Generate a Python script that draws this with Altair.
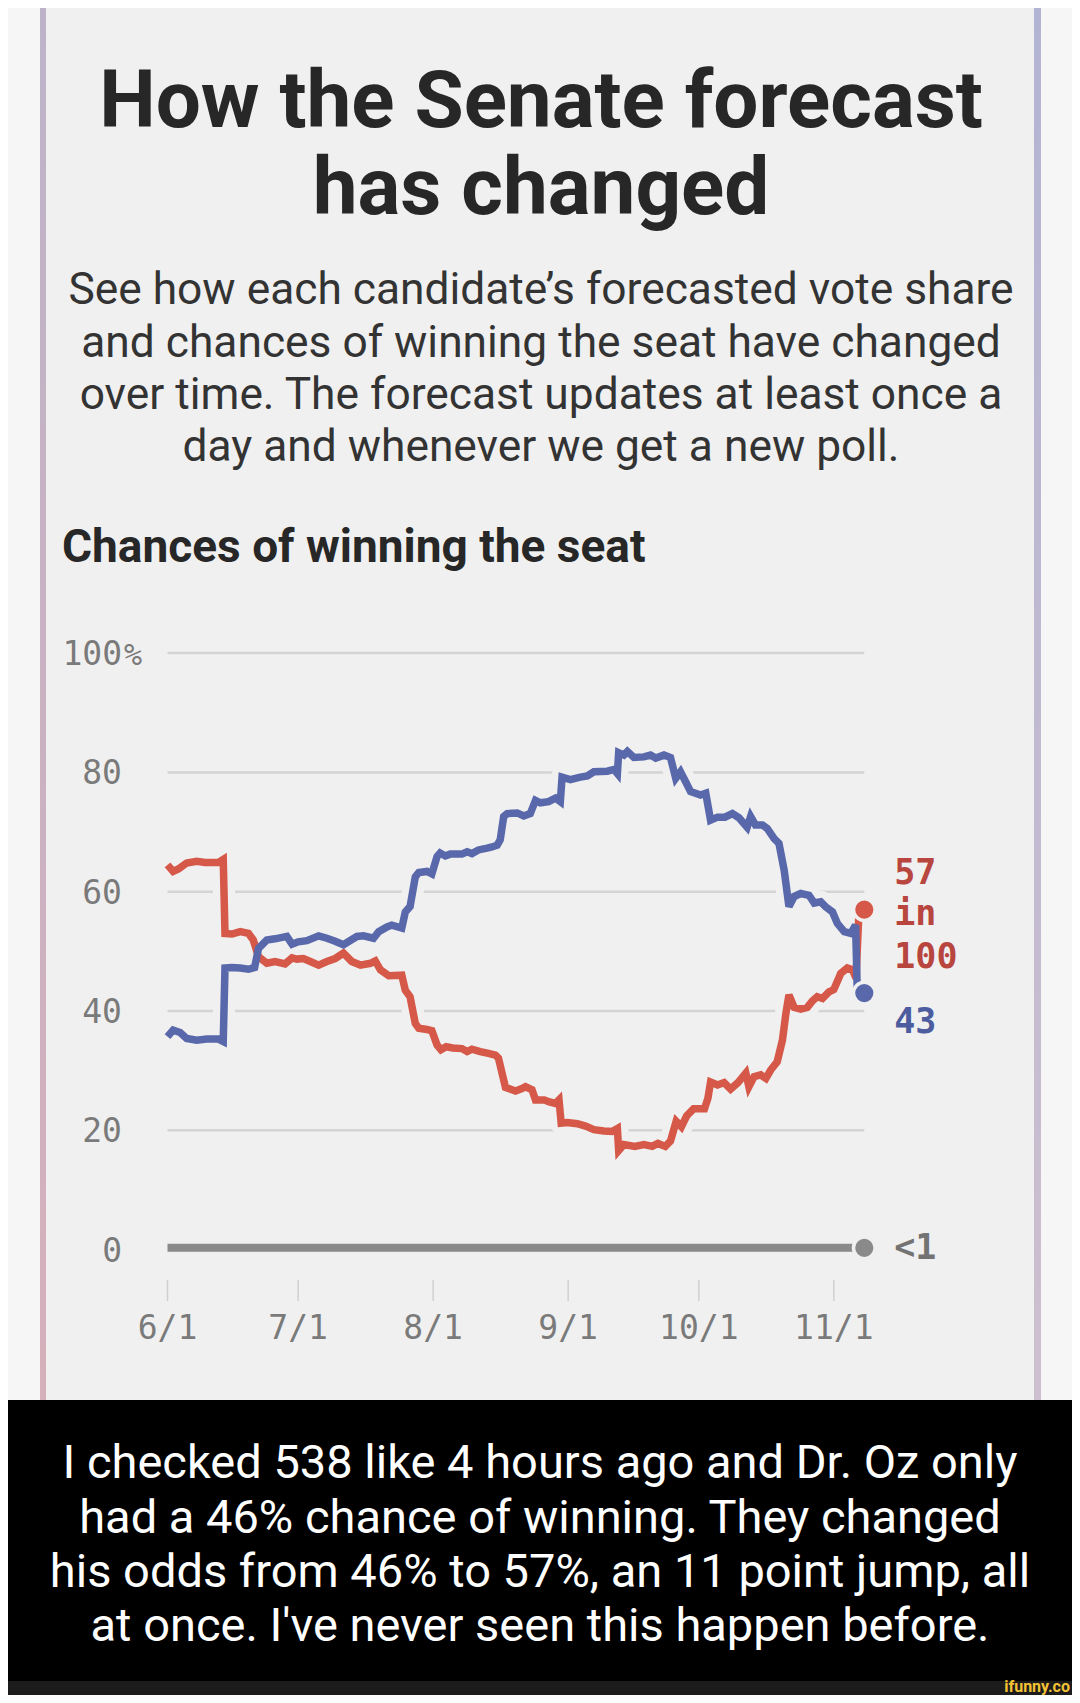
import altair as alt
import pandas as pd

# ---------------- data ----------------
START = "2022-06-01"
ELECTION = "2022-11-08"

# days since June 1, 2022 and chance of winning (%)
blue_days = [0, 1.3, 2.9, 4.4, 6.7, 9, 11.7, 12.8, 13.2, 14.8, 16.7, 18.6, 20, 20.9, 22.8, 24.7,
             27.4, 28.6, 30, 32, 34.7, 36.6, 38.5, 40.4, 41.5, 43.5, 45, 47.3, 48.5, 50.4, 51.5,
             53.8, 54.6, 55.7, 56.9, 57.7, 59.6, 60.7, 61.9, 62.6, 63.8, 64.9, 67.6, 68.8, 69.9,
             71.4, 73.4, 74.5, 75.7, 76.4, 77.2, 78, 80.3, 81.8, 83.3, 84.5, 85.6, 87.5, 89.1,
             90.2, 90.6, 92.5, 94.8, 96.4, 97.9, 101, 102.5, 103.3, 103.6, 104.8, 105.6, 107.1,
             109.4, 110.9, 112.1, 114, 115.5, 116.7, 117.8, 119, 120.1, 122.4, 123.6, 124.7,
             126.3, 128, 129.7, 131.2, 133.1, 133.9, 135, 136.6, 137.7, 139.3, 140.4, 141.6,
             142.7, 143.9, 145.4, 147.3, 148.5, 150, 151.1, 152.7, 153.8, 155.4, 156.9, 158.0,
             158.4]
blue_vals = [35.7, 36.8, 36.4, 35.4, 35.1, 35.3, 35.3, 34.9, 47.2, 47.3, 47.2, 47.0, 47.3, 50.5,
             51.9, 52.1, 52.5, 51.2, 51.6, 51.8, 52.6, 52.2, 51.7, 51.1, 51.6, 52.5, 52.6, 52.2,
             53.3, 54.1, 54.4, 53.9, 56.6, 57.5, 62.5, 63.2, 63.4, 63.0, 65.9, 66.5, 66.0, 66.3,
             66.3, 66.7, 66.4, 67.0, 67.3, 67.5, 67.8, 68.7, 72.6, 73.1, 73.2, 72.7, 73.1, 75.3,
             74.9, 75.1, 75.7, 75.1, 79.2, 78.8, 79.2, 79.4, 80.1, 80.2, 80.5, 79.8, 83.3, 82.9,
             83.5, 82.5, 82.6, 82.9, 82.4, 82.9, 82.5, 79.0, 80.1, 78.4, 76.8, 76.2, 76.5, 72.0,
             72.5, 72.5, 73.1, 72.4, 70.8, 72.6, 71.2, 71.2, 70.6, 68.9, 68.1, 63.6, 57.5, 59.2,
             59.7, 59.4, 58.1, 58.3, 57.5, 56.6, 54.7, 53.3, 53.0, 54.4, 43.0]

red_days = [0, 1.3, 2.5, 4.4, 6.7, 8.6, 11.7, 12.8, 13.2, 14.8, 16.7, 18.6, 19.7, 20.9, 22.8,
            24.7, 27.0, 28.6, 29.7, 31.2, 32.8, 34.7, 36.6, 38.5, 40.4, 42.3, 44.3, 46.6, 47.7,
            48.9, 50.8, 53.8, 54.6, 55.7, 56.9, 57.7, 59.6, 60.7, 61.9, 62.8, 64, 65.5, 67.6,
            68.8, 69.9, 71.8, 73.7, 75.3, 76, 77.2, 77.6, 79.9, 81.4, 82.2, 83.7, 84.5, 86.5,
            87.5, 89.1, 89.9, 90.4, 91.8, 94.1, 96, 97.9, 100.2, 102.1, 103.3, 103.6, 104.8,
            107.3, 109.4, 111.3, 112.6, 114.3, 115.5, 116.8, 118, 119.2, 120.8, 123.3, 124.1,
            124.7, 126.3, 127.8, 129.3, 131, 132.8, 133.5, 134.7, 136.2, 137.4, 138.5, 140,
            141.2, 142, 142.7, 143.9, 145.4, 146.9, 148.1, 149.2, 150.4, 151.9, 153, 154.6,
            156.1, 157.3, 158.1, 158.8]
red_vals = [64.5, 63.4, 63.8, 64.8, 65.1, 64.9, 64.9, 65.4, 53.0, 52.9, 53.3, 53.0, 51.9, 49.1,
            48.0, 48.3, 47.9, 48.9, 48.7, 48.8, 48.3, 47.7, 48.3, 48.8, 49.7, 48.3, 47.7, 48.0,
            48.4, 46.9, 45.9, 46.0, 43.5, 42.4, 37.9, 37.1, 36.9, 36.7, 34.3, 33.5, 34.0, 33.8,
            33.7, 33.2, 33.6, 33.2, 32.9, 32.6, 32.1, 28.4, 27.2, 26.6, 27.0, 27.3, 26.8, 25.1,
            25.1, 24.8, 24.5, 25.1, 21.2, 21.3, 21.1, 20.7, 20.1, 19.9, 19.8, 20.3, 16.6, 17.6,
            17.3, 17.6, 17.3, 17.8, 17.3, 18.2, 21.5, 20.6, 22.4, 23.6, 23.6, 25.4, 28.1, 27.6,
            28.0, 26.9, 28.0, 29.6, 27.3, 29.0, 29.3, 28.7, 30.1, 31.5, 35.1, 39.6, 42.7, 40.6,
            40.3, 40.6, 41.7, 42.4, 42.1, 43.2, 43.6, 46.3, 47.2, 46.9, 45.5, 57.0]

other_days = [0, 158.6]
other_vals = [0.3, 0.3]

final_red, final_blue, final_other = 57, 43, 0.3
red_label_lines = ["57", "in", "100"]
blue_label = "43"
other_label = "<1"

grid_vals = [20, 40, 60, 80, 100]
ylab_vals = [0, 20, 40, 60, 80, 100]
ylab_text = ["0", "20", "40", "60", "80", "100"]
tick_dates = ["2022-06-01", "2022-07-01", "2022-08-01", "2022-09-01", "2022-10-01", "2022-11-01"]
tick_labels = ["6/1", "7/1", "8/1", "9/1", "10/1", "11/1"]

title_lines = ["How the Senate forecast", "has changed"]
subtitle_lines = ["See how each candidate\u2019s forecasted vote share",
                  "and chances of winning the seat have changed",
                  "over time. The forecast updates at least once a",
                  "day and whenever we get a new poll."]
section_title = "Chances of winning the seat"
caption_lines = ["I checked 538 like 4 hours ago and Dr. Oz only",
                 "had a 46% chance of winning. They changed",
                 "his odds from 46% to 57%, an 11 point jump, all",
                 "at once. I've never seen this happen before."]
watermark = "ifunny.co"

# ---------------- layout ----------------
W, H = 1064, 1687
PX_PER_DAY = 4.355
X0 = 159.5          # canvas x of June 1
PX_PER_PT = 5.965
Y0 = 1241.6         # canvas y of 0 %

t0 = pd.Timestamp(START)


def to_dt(ts):
    return alt.DateTime(year=ts.year, month=ts.month, date=ts.day, hours=ts.hour,
                        minutes=ts.minute, seconds=ts.second)


x_lo = t0 + pd.to_timedelta(-X0 / PX_PER_DAY, unit="D")
x_hi = t0 + pd.to_timedelta((W - X0) / PX_PER_DAY, unit="D")
xs = alt.Scale(type="time", domain=[to_dt(x_lo.round("s")), to_dt(x_hi.round("s"))], nice=False)
ys = alt.Scale(domain=[(Y0 - H) / PX_PER_PT, Y0 / PX_PER_PT], nice=False, zero=False)


def series(days, vals):
    return pd.DataFrame({"date": t0 + pd.to_timedelta(days, unit="D"), "v": vals})


blue_df = series(blue_days, blue_vals)
red_df = series(red_days, red_vals)
other_df = series(other_days, other_vals)

X = lambda f: alt.X(f, scale=xs, axis=None)
Y = lambda f: alt.Y(f, scale=ys, axis=None)

one = pd.DataFrame({"a": [0]})


def rect(x1, x2, y1, y2, color):
    return alt.Chart(one).mark_rect(color=color).encode(
        x=alt.value(x1), x2=alt.value(x2), y=alt.value(y1), y2=alt.value(y2))


def txt(s, x, y, size, weight="normal", color="#333333", font="Roboto", align="center"):
    return alt.Chart(pd.DataFrame({"t": [s]})).mark_text(
        font=font, fontSize=size, fontWeight=weight, color=color, align=align,
        baseline="alphabetic").encode(x=alt.value(x), y=alt.value(y), text="t:N")


BG = "#f0f0f0"
RED = "#d65849"
BLUE = "#5868ab"
GRAY = "#8a8a8a"
layers = []
# card and frame
layers.append(rect(38, 1026, 0, 1392, BG))
layers.append(alt.Chart(one).mark_rect(color=alt.Gradient(
    gradient="linear", x1=0, x2=0, y1=0, y2=1,
    stops=[alt.GradientStop(color="#bdb3c9", offset=0), alt.GradientStop(color="#d6b0bb", offset=1)]
)).encode(x=alt.value(32), x2=alt.value(38), y=alt.value(0), y2=alt.value(1392)))
layers.append(alt.Chart(one).mark_rect(color=alt.Gradient(
    gradient="linear", x1=0, x2=0, y1=0, y2=1,
    stops=[alt.GradientStop(color="#b3b4d3", offset=0), alt.GradientStop(color="#cdbfcf", offset=1)]
)).encode(x=alt.value(1026), x2=alt.value(1033), y=alt.value(0), y2=alt.value(1392)))
# caption box
layers.append(rect(0, W, 1392, 1673, "#000000"))
layers.append(rect(0, W, 1673, H, "#1c1c1c"))

# titles
layers.append(txt(title_lines[0], 533, 119, 80, "bold", "#272727"))
layers.append(txt(title_lines[1], 533, 206, 80, "bold", "#272727"))
for i, line in enumerate(subtitle_lines):
    layers.append(txt(line, 533, [296, 349, 401, 453][i], 44.3, "normal", "#333333"))
layers.append(txt(section_title, 54, 554, 46, "bold", "#272727", align="left"))
for i, line in enumerate(caption_lines):
    layers.append(txt(line, 532, [1470, 1525, 1579, 1633][i], 47, "normal", "#ffffff"))
layers.append(txt(watermark, 1062, 1684, 16, "bold", "#f3c234", align="right"))

# gridlines
grid_df = pd.DataFrame({"v": grid_vals, "start": pd.Timestamp(START), "end": pd.Timestamp(ELECTION)})
layers.append(alt.Chart(grid_df).mark_rule(color="#d4d4d4", strokeWidth=2.5).encode(
    x=X("start:T"), x2="end:T", y=Y("v:Q")))

# y labels
ylab_df = pd.DataFrame({"v": ylab_vals, "label": ylab_text})
layers.append(alt.Chart(ylab_df).mark_text(
    font="DejaVu Sans Mono", fontSize=33, color="#7a7a7a", align="right", baseline="alphabetic",
    dy=12).encode(x=alt.value(114), y=Y("v:Q"), text="label:N"))
pct_df = pd.DataFrame({"v": [100], "label": ["%"]})
layers.append(alt.Chart(pct_df).mark_text(
    font="DejaVu Sans Mono", fontSize=30, color="#7a7a7a", align="left", baseline="alphabetic",
    dy=12).encode(x=alt.value(116), y=Y("v:Q"), text="label:N"))

# x ticks + labels
tick_df = pd.DataFrame({"date": pd.to_datetime(tick_dates), "label": tick_labels})
layers.append(alt.Chart(tick_df).mark_rule(color="#d0d0d0", strokeWidth=1.5).encode(
    x=X("date:T"), y=alt.value(1272), y2=alt.value(1293)))
layers.append(alt.Chart(tick_df).mark_text(
    font="DejaVu Sans Mono", fontSize=33, color="#7a7a7a", align="center",
    baseline="alphabetic").encode(x=X("date:T"), y=alt.value(1331), text="label:N"))

# lines
layers.append(alt.Chart(other_df).mark_line(color=GRAY, strokeWidth=8).encode(
    x=X("date:T"), y=Y("v:Q")))
for df in (red_df, blue_df):
    layers.append(alt.Chart(df).mark_line(color=BG, strokeWidth=22, strokeJoin="round").encode(
        x=X("date:T"), y=Y("v:Q")))
layers.append(alt.Chart(red_df).mark_line(color=RED, strokeWidth=7.5, strokeMiterLimit=3).encode(
    x=X("date:T"), y=Y("v:Q")))
layers.append(alt.Chart(blue_df).mark_line(color=BLUE, strokeWidth=7.5, strokeMiterLimit=3).encode(
    x=X("date:T"), y=Y("v:Q")))

# end dots
end = pd.Timestamp(ELECTION)
for val, col in ((final_other, GRAY), (final_red, RED), (final_blue, BLUE)):
    d = pd.DataFrame({"date": [end], "v": [val]})
    layers.append(alt.Chart(d).mark_point(filled=True, fill=col, stroke=BG, strokeWidth=3.5,
                                          size=470, opacity=1, shape="circle").encode(
        x=X("date:T"), y=Y("v:Q")))

# end labels
red_end = pd.DataFrame({"date": [end], "v": [final_red]})
for line, dy in zip(red_label_lines, (-26, 15, 58)):
    layers.append(alt.Chart(red_end.assign(t=line)).mark_text(
        font="DejaVu Sans Mono", fontWeight="bold", fontSize=35, color="#b8463f", align="left",
        baseline="alphabetic", dx=30, dy=dy).encode(x=X("date:T"), y=Y("v:Q"), text="t:N"))
blue_end = pd.DataFrame({"date": [end], "v": [final_blue], "t": [blue_label]})
layers.append(alt.Chart(blue_end).mark_text(
    font="DejaVu Sans Mono", fontWeight="bold", fontSize=35, color="#4c5c9e", align="left",
    baseline="alphabetic", dx=30, dy=40).encode(x=X("date:T"), y=Y("v:Q"), text="t:N"))
other_end = pd.DataFrame({"date": [end], "v": [final_other], "t": [other_label]})
layers.append(alt.Chart(other_end).mark_text(
    font="DejaVu Sans Mono", fontWeight="bold", fontSize=35, color="#737373", align="left",
    baseline="alphabetic", dx=30, dy=11).encode(x=X("date:T"), y=Y("v:Q"), text="t:N"))

chart = alt.layer(*layers).properties(
    width=W, height=H, padding=0, background="#f6f6f6",
    autosize=alt.AutoSizeParams(type="none"),
).configure_view(stroke=None)

chart.save("out.html", embed_options={"renderer": "svg", "actions": False})
